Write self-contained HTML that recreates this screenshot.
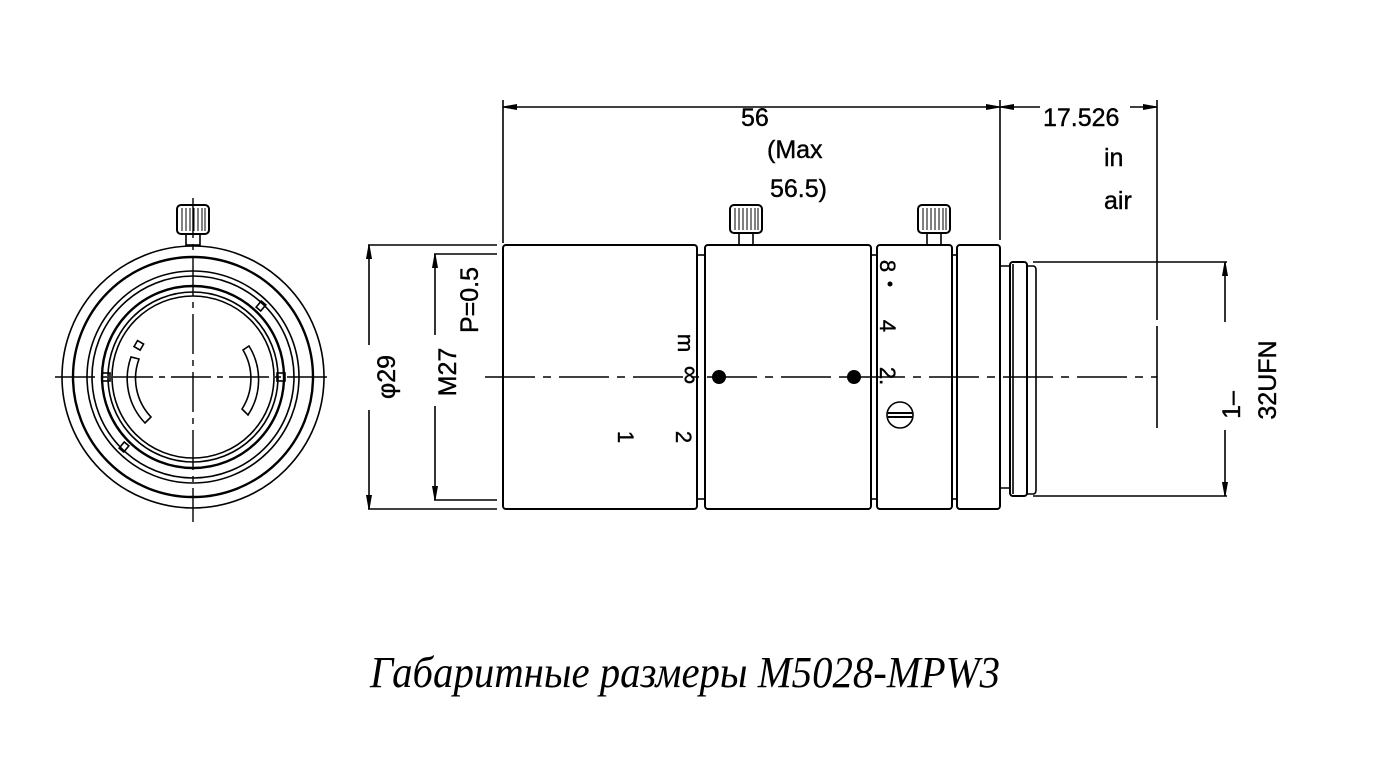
<!DOCTYPE html>
<html><head><meta charset="utf-8"><style>
html,body{margin:0;padding:0;background:#fff;}
svg{display:block;}
text{font-family:"Liberation Sans",sans-serif;fill:#000;}
text.cap{font-family:"Liberation Serif",serif;font-style:italic;}
</style></head><body>
<svg width="1375" height="780" viewBox="0 0 1375 780" xmlns="http://www.w3.org/2000/svg">
<defs>
<marker id="ar" markerWidth="14" markerHeight="8" refX="14" refY="4" orient="auto" markerUnits="userSpaceOnUse">
<path d="M0,1.5 L14,4 L0,6.5 Z" fill="#000" stroke="#000" stroke-width="1"/>
</marker>
</defs>
<g fill="none" stroke="#000" stroke-width="1.6">
<!-- FRONT VIEW -->
<circle cx="193" cy="377" r="131"/>
<circle cx="193" cy="377" r="120" stroke-width="2.4"/>
<circle cx="193" cy="377" r="106"/>
<circle cx="193" cy="377" r="101"/>
<circle cx="193" cy="377" r="91" stroke-width="2.4"/>
<circle cx="193" cy="377" r="85"/>
<circle cx="193" cy="377" r="81"/>
<rect x="177" y="205" width="32" height="29" rx="4" stroke-width="2"/>
<g stroke-width="1"><line x1="182" y1="208" x2="182" y2="231"/><line x1="186" y1="208" x2="186" y2="231"/><line x1="190" y1="208" x2="190" y2="231"/><line x1="194" y1="208" x2="194" y2="231"/><line x1="198" y1="208" x2="198" y2="231"/><line x1="202" y1="208" x2="202" y2="231"/><line x1="205" y1="208" x2="205" y2="231"/></g>
<rect x="186" y="234" width="14" height="11"/>
<!-- slots -->
<path d="M131,357 A64,64 0 0 0 145,423 L151,417 A56,56 0 0 1 139,359 Z"/>
<path d="M249,346 A64,64 0 0 1 248,415 L242,409 A56,56 0 0 0 243,350 Z"/>
<rect x="135" y="342" width="7" height="7" transform="rotate(30 139 346)"/>
<rect x="102" y="373" width="8" height="8"/>
<rect x="277" y="373" width="8" height="8"/>
<rect x="258" y="302" width="6" height="8" transform="rotate(40 261 306)"/>
<rect x="121" y="443" width="6" height="8" transform="rotate(40 124 447)"/>
<g stroke-width="1.4" stroke-dasharray="40,6,6,6">
<line x1="55" y1="377" x2="333" y2="377"/>
<line x1="193" y1="198" x2="193" y2="522"/>
</g>
<!-- SIDE VIEW dims -->
<line x1="503" y1="100" x2="503" y2="243"/>
<line x1="1000" y1="100" x2="1000" y2="240"/>
<line x1="1157" y1="100" x2="1157" y2="320"/>
<line x1="1157" y1="326" x2="1157" y2="428"/>
<line x1="630" y1="107" x2="503" y2="107" marker-end="url(#ar)"/>
<line x1="630" y1="107" x2="1000" y2="107" marker-end="url(#ar)"/>
<line x1="1040" y1="107" x2="1000" y2="107" marker-end="url(#ar)"/>
<line x1="1130" y1="107" x2="1157" y2="107" marker-end="url(#ar)"/>
<!-- phi29 -->
<line x1="368" y1="245" x2="497" y2="245"/>
<line x1="368" y1="509" x2="497" y2="509"/>
<line x1="369" y1="345" x2="369" y2="245" marker-end="url(#ar)"/>
<line x1="369" y1="410" x2="369" y2="509" marker-end="url(#ar)"/>
<!-- M27 -->
<line x1="434" y1="254" x2="497" y2="254"/>
<line x1="434" y1="500" x2="497" y2="500"/>
<line x1="435" y1="335" x2="435" y2="254" marker-end="url(#ar)"/>
<line x1="435" y1="406" x2="435" y2="500" marker-end="url(#ar)"/>
<!-- 1-32UFN -->
<line x1="1033" y1="262" x2="1227" y2="262"/>
<line x1="1033" y1="496" x2="1227" y2="496"/>
<line x1="1225" y1="322" x2="1225" y2="262" marker-end="url(#ar)"/>
<line x1="1225" y1="430" x2="1225" y2="496" marker-end="url(#ar)"/>
<!-- body -->
<g stroke-width="2">
<rect x="503" y="245" width="194" height="264" rx="3"/>
<rect x="705" y="245" width="166" height="264" rx="3"/>
<rect x="877" y="245" width="75" height="264" rx="3"/>
<rect x="957" y="245" width="43" height="264" rx="3"/>
<rect x="1010" y="262" width="17" height="234" rx="3"/>
</g>
<rect x="697" y="255" width="8" height="244"/>
<rect x="871" y="255" width="6" height="244"/>
<rect x="952" y="255" width="5" height="244"/>
<path d="M1000,266 H1010 M1000,488 H1010"/>
<line x1="1013" y1="264" x2="1013" y2="494"/>
<path d="M1027,266 H1033 Q1036,266 1036,270 V490 Q1036,494 1033,494 H1027"/>
<!-- knobs -->
<rect x="730" y="205" width="32" height="28" rx="4" stroke-width="2"/>
<g stroke-width="1"><line x1="735" y1="208" x2="735" y2="230"/><line x1="739" y1="208" x2="739" y2="230"/><line x1="743" y1="208" x2="743" y2="230"/><line x1="747" y1="208" x2="747" y2="230"/><line x1="751" y1="208" x2="751" y2="230"/><line x1="755" y1="208" x2="755" y2="230"/><line x1="758" y1="208" x2="758" y2="230"/></g>
<rect x="739" y="233" width="14" height="12"/>
<rect x="918" y="205" width="32" height="28" rx="4" stroke-width="2"/>
<g stroke-width="1"><line x1="923" y1="208" x2="923" y2="230"/><line x1="927" y1="208" x2="927" y2="230"/><line x1="931" y1="208" x2="931" y2="230"/><line x1="935" y1="208" x2="935" y2="230"/><line x1="939" y1="208" x2="939" y2="230"/><line x1="943" y1="208" x2="943" y2="230"/><line x1="946" y1="208" x2="946" y2="230"/></g>
<rect x="927" y="233" width="14" height="12"/>
<!-- axis -->
<line x1="485" y1="377" x2="1157" y2="377" stroke-width="1.4" stroke-dasharray="50,8,8,8"/>
<circle cx="900" cy="415" r="13"/>
<line x1="888" y1="413" x2="912" y2="413" stroke-width="2"/>
<line x1="888" y1="417" x2="912" y2="417" stroke-width="2"/>
</g>
<circle cx="719" cy="377" r="7"/>
<circle cx="854" cy="377" r="7"/>
<circle cx="890" cy="284" r="2.5"/>
<!-- texts -->
<g font-size="25" stroke="#000" stroke-width="0.4">
<text x="741" y="126">56</text>
<text x="767" y="158">(Max</text>
<text x="770" y="197">56.5)</text>
<text x="1043" y="126">17.526</text>
<text x="1104" y="166">in</text>
<text x="1104" y="209">air</text>
<text transform="translate(395,377) rotate(-90)" text-anchor="middle">φ29</text>
<text transform="translate(456,372) rotate(-90)" text-anchor="middle">M27</text>
<text transform="translate(478,300) rotate(-90)" text-anchor="middle">P=0.5</text>
<text transform="translate(1240,405) rotate(-90)" text-anchor="middle">1–</text>
<text transform="translate(1276,380) rotate(-90)" text-anchor="middle">32UFN</text>
</g>
<g font-size="22" stroke="#000" stroke-width="0.4">
<text transform="translate(678,343) rotate(90)" text-anchor="middle">m</text>
<text transform="translate(682,375) rotate(90)" text-anchor="middle" font-size="26">∞</text>
<text transform="translate(676,437) rotate(90)" text-anchor="middle">2</text>
<text transform="translate(618,437) rotate(90)" text-anchor="middle">1</text>
<text transform="translate(880,266) rotate(90)" text-anchor="middle">8</text>
<text transform="translate(880,326) rotate(90)" text-anchor="middle">4</text>
<text transform="translate(880,376) rotate(90)" text-anchor="middle">2.</text>
</g>
<text class="cap" x="370" y="687" font-size="44" textLength="630" lengthAdjust="spacingAndGlyphs">Габаритные размеры M5028-MPW3</text>
</svg>
</body></html>
